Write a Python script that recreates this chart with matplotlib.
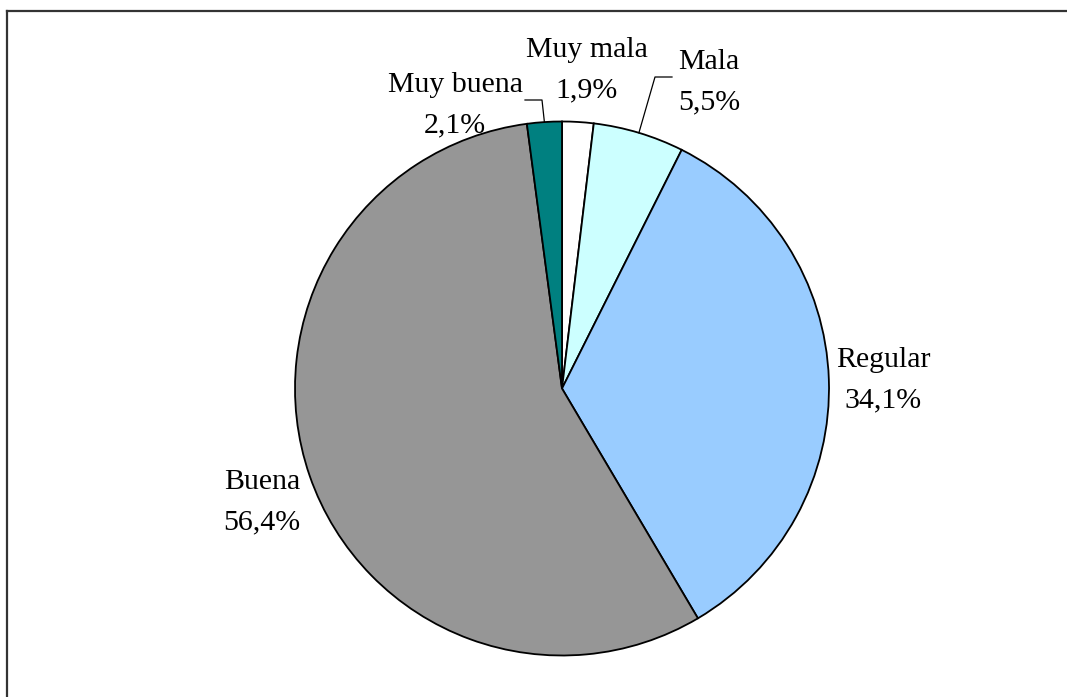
import numpy as np
import matplotlib
matplotlib.use('Agg')
import matplotlib.pyplot as plt

# datos
categorias = ['Muy mala', 'Mala', 'Regular', 'Buena', 'Muy buena']
porcentajes = [1.9, 5.5, 34.1, 56.4, 2.1]
colores = ['#FFFFFF', '#CCFFFF', '#99CCFF', '#969696', '#008080']

plt.rcParams['font.family'] = ['Liberation Serif', 'DejaVu Serif']

W, H = 1067, 697
fig = plt.figure(figsize=(W / 100, H / 100), dpi=100)
ax = fig.add_axes([0, 0, 1, 1])

cx, cy, r = 562, H - 388.5, 267
ax.pie(porcentajes, colors=colores, startangle=90, counterclock=False,
       center=(cx, cy), radius=r, frame=True,
       wedgeprops=dict(edgecolor='black', linewidth=1.3))
ax.set_xlim(0, W)
ax.set_ylim(0, H)
ax.axis('off')

# borde (solo arriba e izquierda)
ax.plot([6.5, W], [H - 10.5, H - 10.5], color='#333333', lw=1.6, clip_on=False)
ax.plot([6.5, 6.5], [H - 10.5, 0], color='#333333', lw=1.6, clip_on=False)

# posiciones de etiquetas (pixeles)
pos_etiquetas = [(587, 70), (709, 82), (883, 380), (262, 502), (455, 105)]
codos = {1: [(655, 77), (672, 77)], 4: [(542, 100), (525, 100)]}

acum = np.cumsum([0] + porcentajes)
for i, (cat, p) in enumerate(zip(categorias, porcentajes)):
    tx, ty = pos_etiquetas[i]
    txt = f"{cat}\n{p:.1f}%".replace('.', ',')
    ax.text(tx, H - ty, txt, ha='center', va='center', fontsize=21.5,
            linespacing=1.72)
    if i in codos:
        ang = np.deg2rad(90 - 360 * (acum[i] + p / 2) / 100)
        x0, y0 = cx + r * np.cos(ang), cy + r * np.sin(ang)
        xs = [x0] + [c[0] for c in codos[i]]
        ys = [y0] + [H - c[1] for c in codos[i]]
        ax.plot(xs, ys, color='black', lw=0.9)

fig.savefig('out.png', dpi=100)
